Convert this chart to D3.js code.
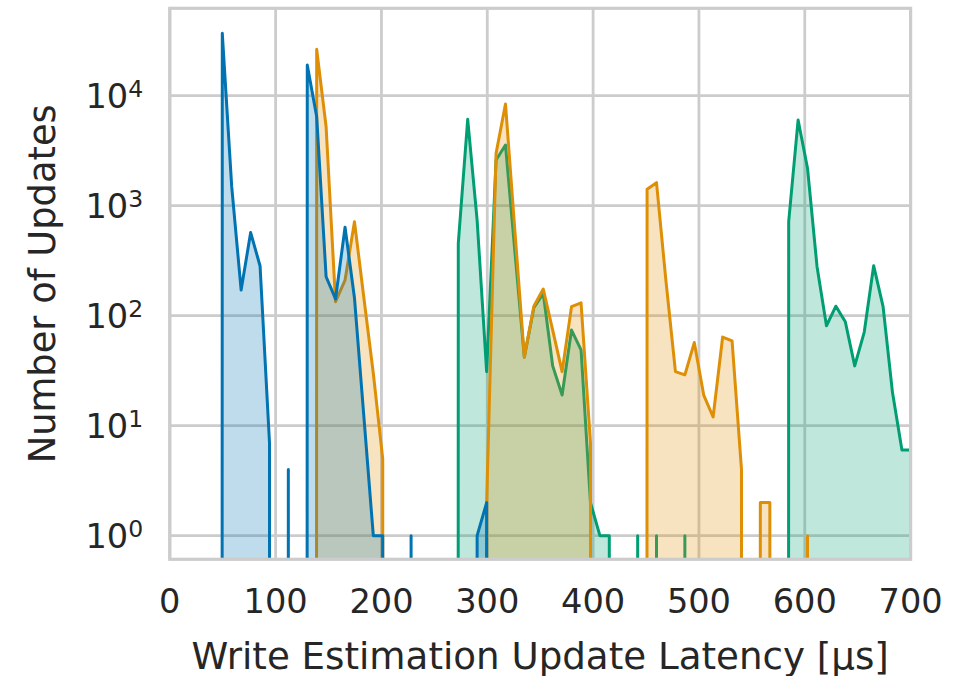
<!DOCTYPE html>
<html>
	<head>
		<meta charset="utf-8">
		<script src="https://d3js.org/d3.v7.min.js"></script>
		<style>
			body { margin: 0; background: #fff; }
			text { font-family: "DejaVu Sans", sans-serif; fill: #262626; }
		</style>
	</head>
	<body>
		<svg id="chart" width="966" height="676"></svg>

	<script>
			// Histogram bin centres [us]
			var bins = [5.0, 13.9, 22.8, 31.8, 40.7, 49.6, 58.5, 67.4, 76.4, 85.3,
				94.2, 103.1, 112.0, 121.0, 129.9, 138.8, 147.7, 156.6, 165.6, 174.5,
				183.4, 192.3, 201.2, 210.2, 219.1, 228.0, 236.9, 245.8, 254.8, 263.7,
				272.6, 281.5, 290.4, 299.4, 308.3, 317.2, 326.1, 335.0, 344.0, 352.9,
				361.8, 370.7, 379.6, 388.6, 397.5, 406.4, 415.3, 424.2, 433.2, 442.1,
				451.0, 459.9, 468.8, 477.8, 486.7, 495.6, 504.5, 513.4, 522.4, 531.3,
				540.2, 549.1, 558.0, 567.0, 575.9, 584.8, 593.7, 602.6, 611.6, 620.5,
				629.4, 638.3, 647.2, 656.2, 665.1, 674.0, 682.9, 691.8, 700.8];

			// Counts per bin
			var blueCounts = [0, 0, 0, 0, 0, 36900, 1490, 171, 570, 283,
				7, 0, 4, 0, 19000, 6450, 226, 142, 637, 145,
				12, 1, 1, 0, 0, 1, 0, 0, 0, 0,
				0, 0, 1, 2, 0, 0, 0, 0, 0, 0,
				0, 0, 0, 0, 0, 0, 0, 0, 0, 0,
				0, 0, 0, 0, 0, 0, 0, 0, 0, 0,
				0, 0, 0, 0, 0, 0, 0, 0, 0, 0,
				0, 0, 0, 0, 0, 0, 0, 0, 0];

			var orangeCounts = [0, 0, 0, 0, 0, 0, 0, 0, 0, 0,
				0, 0, 0, 0, 0, 26400, 5220, 134, 211, 716,
				145, 30, 5, 0, 0, 0, 0, 0, 0, 0,
				0, 0, 0, 2, 2990, 8410, 589, 42, 122, 175,
				74, 31, 121, 131, 7, 0, 0, 0, 0, 0,
				1410, 1620, 208, 31, 29, 57, 19, 12, 64, 59,
				4, 0, 2, 2, 0, 0, 0, 1, 0, 0,
				0, 0, 0, 0, 0, 0, 0, 0, 0];

			var greenCounts = [0, 0, 0, 0, 0, 0, 0, 0, 0, 0,
				0, 0, 0, 0, 0, 0, 0, 0, 0, 0,
				0, 0, 0, 0, 0, 0, 0, 0, 0, 0,
				455, 6100, 740, 31, 2600, 3560, 380, 42, 118, 159,
				35, 19, 74, 49, 2, 1, 1, 0, 0, 1,
				0, 1, 0, 0, 1, 0, 0, 0, 0, 0,
				0, 0, 0, 0, 0, 716, 6010, 2190, 279, 81,
				122, 88, 35, 71, 285, 121, 20, 6, 6];

			var xTicks = [0, 100, 200, 300, 400, 500, 600, 700];
			var yTicks = [1, 10, 100, 1000, 10000];
			var yExponents = ["0", "1", "2", "3", "4"];

			var svg = d3.select("#chart");

			// Axes box
			var boxLeft = 169.8, boxRight = 910.6, boxTop = 8.3, boxBottom = 559.3;

			var x = d3.scaleLinear().domain([0, 700]).range([boxLeft, boxRight]);
			var y = d3.scaleLog().domain([Math.pow(10, -0.2145), Math.pow(10, 4.7945)]).range([boxBottom, boxTop]);

			// Empty bins fall far below the axes (like matplotlib's log clipping)
			function yPos(v) {
				return v > 0 ? y(v) : y(1e-300);
			}

			svg.append("defs").append("clipPath").attr("id", "plotClip")
				.append("rect")
				.attr("x", boxLeft).attr("y", boxTop)
				.attr("width", boxRight - boxLeft).attr("height", boxBottom - boxTop);

			// Grid
			var grid = svg.append("g").attr("stroke", "#cccccc").attr("stroke-width", 2.8);
			grid.selectAll(".vgrid").data(xTicks).enter().append("line")
				.attr("x1", d => x(d)).attr("x2", d => x(d))
				.attr("y1", boxTop).attr("y2", boxBottom);
			grid.selectAll(".hgrid").data(yTicks).enter().append("line")
				.attr("x1", boxLeft).attr("x2", boxRight)
				.attr("y1", d => y(d)).attr("y2", d => y(d));

			// Series, drawn last-to-first so blue ends on top
			var series = [
				{counts: greenCounts, color: "#029e73"},
				{counts: orangeCounts, color: "#de8f05"},
				{counts: blueCounts, color: "#0173b2"}
			];

			var area = d3.area()
				.x((d, i) => x(bins[i]))
				.y0(yPos(0))
				.y1(d => yPos(d));

			var plot = svg.append("g").attr("clip-path", "url(#plotClip)");
			series.forEach(function(s) {
				plot.append("path")
					.datum(s.counts)
					.attr("d", area)
					.attr("fill", s.color)
					.attr("fill-opacity", 0.25)
					.attr("stroke", s.color)
					.attr("stroke-width", 3)
					.attr("stroke-linejoin", "round");
			});

			// Spines
			svg.append("rect")
				.attr("x", boxLeft).attr("y", boxTop)
				.attr("width", boxRight - boxLeft).attr("height", boxBottom - boxTop)
				.attr("fill", "none")
				.attr("stroke", "#cccccc")
				.attr("stroke-width", 3.2);

			// X tick labels
			svg.selectAll(".xtick").data(xTicks).enter().append("text")
				.attr("x", d => x(d))
				.attr("y", 612.7)
				.attr("text-anchor", "middle")
				.attr("font-size", 33.6)
				.text(d => d);

			// Y tick labels as 10^n
			var yLabels = svg.selectAll(".ytick").data(yTicks).enter().append("text")
				.attr("x", 143.2)
				.attr("y", d => y(d) + 12.6)
				.attr("text-anchor", "end")
				.attr("font-size", 33.6);
			yLabels.append("tspan").text("10");
			yLabels.append("tspan")
				.attr("dy", -11.6)
				.attr("font-size", 23.5)
				.text((d, i) => yExponents[i]);

			// Axis titles
			svg.append("text")
				.attr("x", (boxLeft + boxRight) / 2)
				.attr("y", 668.5)
				.attr("text-anchor", "middle")
				.attr("font-size", 37.2)
				.text("Write Estimation Update Latency [μs]");

			svg.append("text")
				.attr("transform", "translate(55," + (boxTop + boxBottom) / 2 + ") rotate(-90)")
				.attr("text-anchor", "middle")
				.attr("font-size", 36.8)
				.text("Number of Updates");
	</script>
	</body>
</html>
